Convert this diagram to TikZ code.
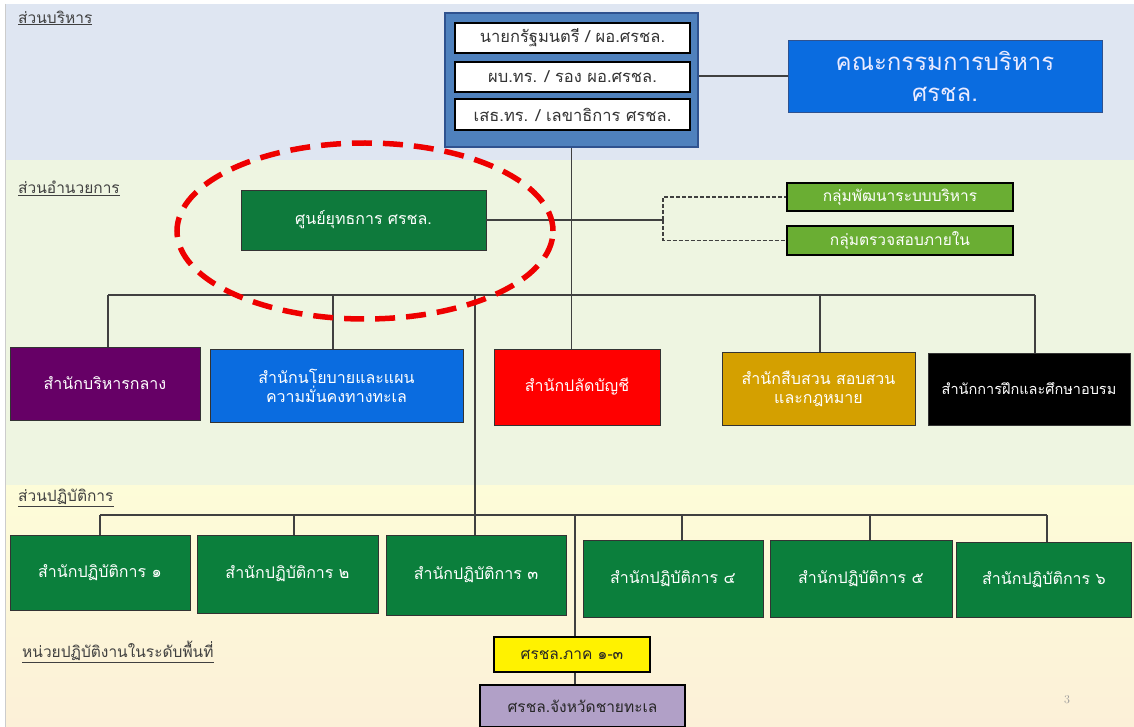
\documentclass[tikz,border=0pt]{standalone}
\usepackage{fontspec}
\newfontfamily\thai[Script=Thai]{Loma}
\definecolor{bgA}{HTML}{DFE6F2}
\definecolor{bgB}{HTML}{EEF5E1}
\definecolor{bgC}{HTML}{FDFCD8}
\definecolor{bgD}{HTML}{FCF0D8}
\definecolor{frameblue}{HTML}{4F81BD}
\definecolor{framedark}{HTML}{2F528F}
\definecolor{brightblue}{HTML}{0A6CE0}
\definecolor{dkgreen}{HTML}{0E7A3C}
\definecolor{opsgreen}{HTML}{0B7F3C}
\definecolor{ltgreen}{HTML}{6AAE33}
\definecolor{purp}{HTML}{660066}
\definecolor{gold}{HTML}{D4A000}
\definecolor{lav}{HTML}{B1A0C7}
\definecolor{linegray}{HTML}{404040}
\definecolor{ellred}{HTML}{EE0000}
\tikzset{
  box/.style={draw=black!80, line width=0.8pt, inner sep=2pt, align=center, text=white, font=\thai\fontsize{16}{19}\selectfont},
  inbox/.style={draw=black, line width=2.5pt, fill=white, minimum width=235pt, minimum height=30pt, text=black!80, font=\thai\fontsize{16.5}{18}\selectfont},
  thickbox/.style={draw=black, line width=2pt, inner sep=2pt, align=center, font=\thai\fontsize{15.5}{18}\selectfont},
  conn/.style={draw=linegray, line width=1.6pt},
  dconn/.style={draw=linegray, line width=1.4pt, dash pattern=on 4pt off 2pt},
  seclabel/.style={anchor=west, text=black!75, font=\thai\fontsize{15.5}{18}\selectfont, inner sep=0pt}
}
\begin{document}
\begin{tikzpicture}[x=1pt,y=-1pt]
\useasboundingbox (0,0) rectangle (1134,727);
% backgrounds
\fill[white] (0,0) rectangle (1134,727);
\fill[bgA] (5,4) rectangle (1134,160);
\fill[bgB] (5,160) rectangle (1134,485);
\shade[top color=bgC, bottom color=bgD] (5,485) rectangle (1134,727);
\draw[black!20, line width=0.8pt] (5,4) -- (5,727);

% section labels
\node[seclabel] (l1) at (18,18) {\underline{ส่วนบริหาร}};
\node[seclabel] (l2) at (18,188) {\underline{ส่วนอำนวยการ}};
\node[seclabel] (l3) at (18,498) {\underline{ส่วนปฏิบัติการ}};
\node[seclabel] (l4) at (22,652) {\underline{หน่วยปฏิบัติงานในระดับพื้นที่}};

% top block
\node[draw=framedark, line width=1.5pt, fill=frameblue, minimum width=253pt, minimum height=134pt] (top) at (571.5,80) {};
\node[inbox] (t1) at (572.5,38) {นายกรัฐมนตรี / ผอ.ศรชล.};
\node[inbox] (t2) at (572.5,77) {ผบ.ทร. / รอง ผอ.ศรชล.};
\node[inbox, minimum height=31pt] (t3) at (572.5,114.5) {เสธ.ทร. / เลขาธิการ ศรชล.};

\node[box, draw=framedark, fill=brightblue, minimum width=314pt, minimum height=72pt, text=white!92!blue, font=\thai\fontsize{24}{31}\selectfont] (comm) at (945,76) {คณะกรรมการบริหาร\\ศรชล.};

% staff
\node[box, fill=dkgreen, minimum width=245pt, minimum height=60pt] (sun) at (363.5,220) {ศูนย์ยุทธการ ศรชล.};
\node[thickbox, fill=ltgreen, text=white, minimum width=226pt, minimum height=28pt] (g1) at (900,197) {กลุ่มพัฒนาระบบบริหาร};
\node[thickbox, fill=ltgreen, text=white, minimum width=226pt, minimum height=29pt] (g2) at (900,240.5) {กลุ่มตรวจสอบภายใน};

% bureaus
\node[box, fill=purp, minimum width=190pt, minimum height=73pt] (b1) at (105,383.5) {สำนักบริหารกลาง};
\node[box, fill=brightblue, minimum width=253pt, minimum height=73pt] (b2) at (336.5,385.5) {สำนักนโยบายและแผน\\ความมั่นคงทางทะเล};
\node[box, fill=red, minimum width=166pt, minimum height=76pt] (b3) at (577,387) {สำนักปลัดบัญชี};
\node[box, fill=gold, minimum width=193pt, minimum height=73pt] (b4) at (818.5,388.5) {สำนักสืบสวน สอบสวน\\และกฎหมาย};
\node[box, fill=black, minimum width=202pt, minimum height=72pt, font=\thai\fontsize{14.5}{17}\selectfont] (b5) at (1029,389) {สำนักการฝึกและศึกษาอบรม};

% operations
\node[box, fill=opsgreen, minimum width=180pt, minimum height=75pt] (o1) at (100,572.5) {สำนักปฏิบัติการ ๑};
\node[box, fill=opsgreen, minimum width=181pt, minimum height=78pt] (o2) at (287.5,574) {สำนักปฏิบัติการ ๒};
\node[box, fill=opsgreen, minimum width=180pt, minimum height=80pt] (o3) at (476,575) {สำนักปฏิบัติการ ๓};
\node[box, fill=opsgreen, minimum width=180pt, minimum height=77pt] (o4) at (673,578.5) {สำนักปฏิบัติการ ๔};
\node[box, fill=opsgreen, minimum width=182pt, minimum height=77pt] (o5) at (861,578.5) {สำนักปฏิบัติการ ๕};
\node[box, fill=opsgreen, minimum width=175pt, minimum height=75pt] (o6) at (1044,579.5) {สำนักปฏิบัติการ ๖};

% area units
\node[thickbox, fill=yellow, text=black!85, minimum width=156pt, minimum height=35pt] (r1) at (572,654.5) {ศรชล.ภาค ๑-๓};
\node[thickbox, fill=lav, text=black!85, minimum width=205pt, minimum height=42pt] (r2) at (582.5,706) {ศรชล.จังหวัดชายทะเล};

\node[text=black!40, font=\fontsize{12}{14}\selectfont] (pg) at (1067,700) {3};

% connectors
\draw[conn] (top.east |- comm.west) -- (comm.west);
\draw[conn] (top.south) -- (top.south |- b3.north);
\coordinate (br) at (663,220);
\draw[conn] (sun.east) -- (br);
\draw[dconn] (br) |- (g1.west);
\draw[dconn] (br) |- (g2.west);

\coordinate (barL) at (108,295);
\coordinate (barR) at (1035,295);
\draw[conn] (barL) -- (barR);
\draw[conn] (barL) -- (barL |- b1.north);
\draw[conn] (333,295) -- (333,0 |- b2.north);
\draw[conn] (820,295) -- (820,0 |- b4.north);
\draw[conn] (barR) -- (barR |- b5.north);

\coordinate (opL) at (100,515);
\coordinate (opR) at (1047,515);
\coordinate (opM) at (475,515);
\draw[conn] (475,295) -- (opM);
\draw[conn] (opL) -- (opR);
\draw[conn] (opL) -- (opL |- o1.north);
\draw[conn] (294,515) -- (294,0 |- o2.north);
\draw[conn] (opM) -- (opM |- o3.north);
\draw[conn] (682,515) -- (682,0 |- o4.north);
\draw[conn] (870,515) -- (870,0 |- o5.north);
\draw[conn] (opR) -- (opR |- o6.north);
\draw[conn] (575,515) -- (575,0 |- r1.north);
\draw[conn] (r1.south -| 575,0) -- (575,0 |- r2.north);

% highlight ellipse
\draw[ellred, line width=5.5pt, dash pattern=on 20pt off 11pt] (365,231) ellipse [x radius=188pt, y radius=88pt];
\end{tikzpicture}
\end{document}
